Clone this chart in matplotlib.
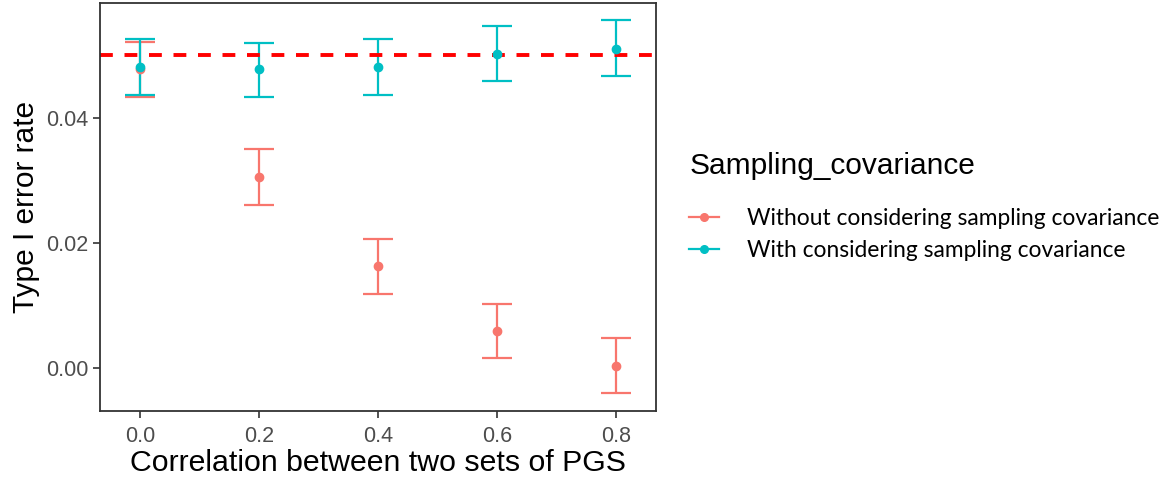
import matplotlib
matplotlib.use("Agg")
import matplotlib.pyplot as plt
from matplotlib.lines import Line2D
import numpy as np

# values
correlation = [0.0, 0.2, 0.4, 0.6, 0.8]
without_rate = [0.0477, 0.0306, 0.0164, 0.0060, 0.0004]
without_lo = [0.0433, 0.0261, 0.0118, 0.0017, -0.0039]
without_hi = [0.0520, 0.0350, 0.0207, 0.0103, 0.0048]
with_rate = [0.0481, 0.0477, 0.0481, 0.0502, 0.0510]
with_lo = [0.0436, 0.0433, 0.0436, 0.0459, 0.0466]
with_hi = [0.0525, 0.0519, 0.0525, 0.0546, 0.0555]
series_names = ["Without considering sampling covariance",
                "With considering sampling covariance"]
alpha_level = 0.05

red = "#F8766D"
cyan = "#00BFC4"

fig = plt.figure(figsize=(11.71, 4.84), dpi=100)
ax = fig.add_axes([0.0854, 0.151, 0.475, 0.843])

for rate, lo, hi, col, name in [(without_rate, without_lo, without_hi, red, series_names[0]),
                                (with_rate, with_lo, with_hi, cyan, series_names[1])]:
    rate = np.array(rate)
    err = [rate - np.array(lo), np.array(hi) - rate]
    ax.errorbar(correlation, rate, yerr=err, fmt="o", color=col, ms=6,
                elinewidth=1.6, capsize=10.8, capthick=1.6, label=name)

ax.axhline(alpha_level, color="#FF0000", lw=2.8, ls=(0, (3.3, 3.0)))

ax.set_xlim(-0.0675, 0.8675)
ax.set_ylim(-0.0068, 0.0583)
ax.set_xticks(correlation)
ax.set_xticklabels(["0.0", "0.2", "0.4", "0.6", "0.8"])
ax.set_yticks([0.0, 0.02, 0.04])
ax.set_yticklabels(["0.00", "0.02", "0.04"])
ax.tick_params(labelsize=15.5, labelcolor="#4D4D4D", color="#333333", length=5, width=1.2)
ax.tick_params(axis="x", pad=6)
for lab in ax.get_xticklabels() + ax.get_yticklabels():
    lab.set_family("Liberation Sans")
for sp in ax.spines.values():
    sp.set_color("#333333")
    sp.set_linewidth(1.3)

ax.set_xlabel("Correlation between two sets of PGS", fontsize=21.8, family="Liberation Sans", labelpad=1)
ax.set_ylabel("Type I error rate", fontsize=21.5, family="Liberation Sans", labelpad=4)

leg_handles = [Line2D([], [], color=red, marker="o", ms=5.5, lw=1.6),
               Line2D([], [], color=cyan, marker="o", ms=5.5, lw=1.6)]
leg = fig.legend(leg_handles, series_names, loc="upper left", bbox_to_anchor=(0.571, 0.728),
                 frameon=False, title="Sampling_covariance", alignment="left",
                 prop={"family": "Lato", "size": 16.4}, handlelength=1.3, handletextpad=1.25,
                 labelspacing=0.48,
                 title_fontproperties={"family": "Liberation Sans", "size": 21.5})
leg._legend_box.sep = 20

fig.savefig("out.png", dpi=100)
